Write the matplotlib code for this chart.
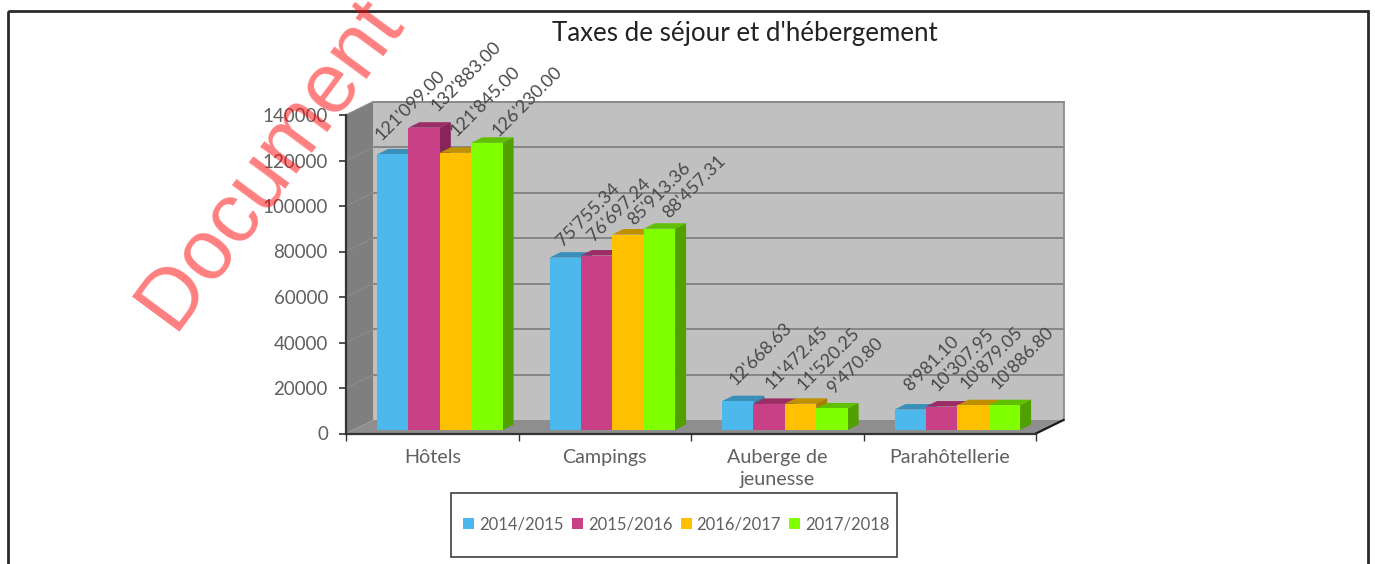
import matplotlib
matplotlib.use("Agg")
import matplotlib.pyplot as plt
from matplotlib.patches import Rectangle

# Data
categories = ["Hôtels", "Campings", "Auberge de\njeunesse", "Parahôtellerie"]
seasons = ["2014/2015", "2015/2016", "2016/2017", "2017/2018"]
v_2014 = [121099.00, 75755.34, 12668.63, 8981.10]
v_2015 = [132883.00, 76697.24, 11472.45, 10307.95]
v_2016 = [121845.00, 85913.36, 11520.25, 10879.05]
v_2017 = [126230.00, 88457.31, 9470.80, 10886.80]
y_ticks = [0, 20000, 40000, 60000, 80000, 100000, 120000, 140000]
title = "Taxes de séjour et d'hébergement"
watermark = "Document"

colours = ["#4DB8EC", "#C94086", "#FFC000", "#80FF00"]
top_colours = ["#3A8FBA", "#9C2C66", "#BF9000", "#60BF00"]
side_colours = ["#37809F", "#87245A", "#A67D00", "#50A000"]

# where each value label starts, in pixels from the middle of the bar top
label_offsets = [
    [(-11, 13), (13, 16), (1, 16), (12, 6)],
    [(-2, 11), (-3, 14), (6, 9), (10, 10)],
    [(-2, 15), (2, 14), (3, 13), (2, 14)],
    [(0, 18), (-4, 15), (-6, 15), (-7, 15)],
]

plt.rcParams["font.family"] = ["Lato", "DejaVu Sans"]
W, H = 1375, 564
fig = plt.figure(figsize=(W / 100, H / 100), dpi=100, facecolor="white")

# plot area in pixels
left, right, top, bottom = 346, 1036, 115, 433.5
ax = fig.add_axes([left / W, 1 - bottom / H, (right - left) / W, (bottom - top) / H])
ax.set_xlim(-0.5, 3.5)
ax.set_ylim(0, 140000)
ax.patch.set_visible(False)

px_x = 4 / (right - left)
px_y = 140000 / (bottom - top)


def box(xs, ys, colour, z):
    ax.fill(xs, ys, color=colour, lw=0, zorder=z, clip_on=False)


# 3d walls
wall_dx, wall_dy = 27.5 * px_x, 13.5 * px_y
box([-0.5 + wall_dx, 3.5 + wall_dx, 3.5 + wall_dx, -0.5 + wall_dx],
    [wall_dy, wall_dy, 140000 + wall_dy, 140000 + wall_dy], "#C0C0C0", 1)
box([-0.5, -0.5 + wall_dx, -0.5 + wall_dx, -0.5],
    [0, wall_dy, 140000 + wall_dy, 140000], "#7F7F7F", 1)
box([-0.5, -0.5 + wall_dx, 3.5 + wall_dx, 3.5],
    [0, wall_dy, wall_dy, 0], "#8E8E8E", 1)
for t in y_ticks[1:]:
    ax.plot([-0.5 + wall_dx, 3.5 + wall_dx], [t + wall_dy, t + wall_dy], color="#868686", lw=1.4, zorder=2, clip_on=False)
    ax.plot([-0.5, -0.5 + wall_dx], [t, t + wall_dy], color="#8C8C8C", lw=0.8, zorder=2, clip_on=False)
ax.plot([-0.5 + wall_dx, 3.5 + wall_dx, 3.5 + wall_dx], [140000 + wall_dy, 140000 + wall_dy, wall_dy],
        color="#8C8C8C", lw=1.3, zorder=2, clip_on=False)
ax.plot([-0.5, -0.5 + wall_dx], [140000, 140000 + wall_dy],
        color="#8C8C8C", lw=0.8, zorder=2, clip_on=False)
ax.plot([3.5, 3.5 + wall_dx], [0, wall_dy], color="#1A1A1A", lw=1.6, zorder=2, clip_on=False)

# bars
series = [v_2014, v_2015, v_2016, v_2017]
bar_w = 31.4 * px_x
start = 31 * px_x
lift = 3.5 * px_y
dx, dy = 11 * px_x, 5.5 * px_y
for g in range(len(categories)):
    for s, values in enumerate(series):
        v = values[g]
        x0 = g - 0.5 + start + s * bar_w
        z = 3 + g * 4 + s
        ax.bar(x0, v, bar_w, bottom=lift, align="edge", color=colours[s], lw=0, zorder=z + 0.5, clip_on=False)
        box([x0, x0 + dx, x0 + bar_w + dx, x0 + bar_w], [v + lift, v + lift + dy, v + lift + dy, v + lift],
            top_colours[s], z)
        box([x0 + bar_w, x0 + bar_w + dx, x0 + bar_w + dx, x0 + bar_w],
            [lift, lift + dy, v + lift + dy, v + lift], side_colours[s], z)
        ax.annotate(f"{v:,.2f}".replace(",", "'"), (x0 + bar_w / 2, v + lift),
                    xytext=label_offsets[g][s], textcoords="offset pixels",
                    rotation=45, rotation_mode="anchor", ha="left", va="baseline",
                    fontsize=13, color="#484848", zorder=30, annotation_clip=False)

# axes
for side in ["top", "right"]:
    ax.spines[side].set_visible(False)
for side in ["left", "bottom"]:
    ax.spines[side].set_color("#333333")
    ax.spines[side].set_linewidth(1.6)
    ax.spines[side].set_zorder(25)
ax.set_yticks(y_ticks)
ax.tick_params(axis="y", length=5, width=1.2, color="#333333", labelsize=13.5, labelcolor="#606060", pad=8)
ax.set_xticks([-0.5, 0.5, 1.5, 2.5, 3.5])
ax.set_xticklabels([])
ax.tick_params(axis="x", length=5, width=1.0, color="#333333")
ax.set_xticks([0, 1, 2, 3], minor=True)
ax.set_xticklabels(categories, minor=True, fontsize=14.2, color="#606060", linespacing=1.35)
ax.tick_params(axis="x", which="minor", length=0, pad=11)

# legend, its box is drawn on the page layer
handles = [Rectangle((0, 0), 1, 1, color=c, lw=0) for c in colours]
fig.legend(handles, seasons, ncol=4, loc="center", bbox_to_anchor=(676.5 / W, 1 - 524 / H),
           fontsize=12, frameon=False, handlelength=0.65, handleheight=0.65,
           handletextpad=0.3, columnspacing=0.5, labelcolor="#606060")

# page layer: frame, title and watermark, in pixels
page = fig.add_axes([0, 0, 1, 1], zorder=10)
page.set_xlim(0, W)
page.set_ylim(H, 0)
page.axis("off")
page.add_patch(Rectangle((8, 11), 1360, 600, fill=False, ec="#2A2A2A", lw=2))
page.add_patch(Rectangle((451, 493), 446, 64, fill=False, ec="#404040", lw=1.2))
page.text(745, 33, title, ha="center", va="center", fontsize=18.6, color="#222222")
page.text(173, 331, watermark, rotation=53.5, rotation_mode="anchor", ha="left", va="baseline",
          fontsize=61, family="Liberation Sans", color="#FF0000", alpha=0.5)

fig.savefig("out.png", dpi=100)
